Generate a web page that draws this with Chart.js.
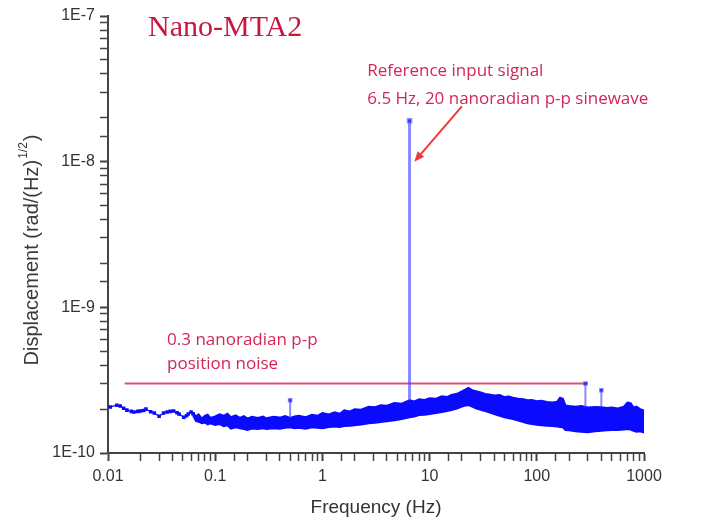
<!DOCTYPE html>
<html>
<head>
<meta charset="utf-8">
<script src="https://cdn.jsdelivr.net/npm/chart.js@4.4.1/dist/chart.umd.min.js"></script>
<style>
  html, body { margin: 0; padding: 0; background: #fff; }
  #wrap { width: 709px; height: 523px; position: relative; }
</style>
</head>
<body>
<div id="wrap"><canvas id="myChart"></canvas></div>
<script>
// values in units of 1E-10 rad/(Hz)^1/2
const lowFreq = [0.0105, 0.0121, 0.013, 0.014, 0.015, 0.0165, 0.0175, 0.019, 0.02, 0.0215, 0.0226, 0.025, 0.027, 0.03, 0.033, 0.0356, 0.038, 0.041, 0.044, 0.046, 0.051, 0.054, 0.056, 0.0596, 0.062]
const lowVals = [2.07, 2.13, 2.10, 2.03, 1.97, 1.93, 1.91, 1.93, 1.94, 1.96, 2.0, 1.92, 1.88, 1.79, 1.88, 1.91, 1.93, 1.94, 1.89, 1.85, 1.76, 1.80, 1.85, 1.91, 1.86]

const bandFreq = [0.062, 0.066, 0.07, 0.075, 0.08, 0.085, 0.09, 0.1, 0.11, 0.12, 0.13, 0.14, 0.155, 0.17, 0.185, 0.2, 0.22, 0.25, 0.28, 0.3, 0.35, 0.4, 0.45, 0.5, 0.55, 0.6, 0.7, 0.8, 0.9, 1.0, 1.15, 1.3, 1.45, 1.6, 1.8, 2.0, 2.3, 2.7, 3.1, 3.5, 4.0, 4.7, 5.5, 6.5, 7.2, 8, 9, 10, 11.5, 13, 14.5, 16, 18, 20, 21.5, 23, 25, 27, 30, 33, 36, 40, 45, 50, 55, 60, 67, 75, 82, 90, 100, 110, 125, 140, 155, 165, 175, 185, 200, 230, 260, 300, 350, 400, 450, 500, 570, 650, 700, 750, 800, 850, 920, 1000]
const bandTop = [1.90, 1.78, 1.84, 1.72, 1.80, 1.83, 1.74, 1.78, 1.84, 1.80, 1.86, 1.76, 1.81, 1.74, 1.79, 1.72, 1.77, 1.74, 1.78, 1.73, 1.77, 1.75, 1.79, 1.74, 1.78, 1.80, 1.76, 1.83, 1.80, 1.88, 1.84, 1.90, 1.86, 1.96, 1.93, 2.00, 1.98, 2.08, 2.06, 2.13, 2.11, 2.20, 2.18, 2.30, 2.26, 2.34, 2.31, 2.38, 2.36, 2.45, 2.42, 2.50, 2.55, 2.65, 2.72, 2.80, 2.70, 2.66, 2.60, 2.54, 2.52, 2.48, 2.50, 2.42, 2.44, 2.40, 2.36, 2.34, 2.30, 2.31, 2.27, 2.28, 2.24, 2.22, 2.25, 2.40, 2.36, 2.12, 2.10, 2.08, 2.10, 2.05, 2.07, 2.06, 2.04, 2.05, 2.02, 2.08, 2.22, 2.20, 2.05, 2.08, 2.00, 1.96]
const bandLow = [1.82, 1.66, 1.64, 1.60, 1.62, 1.57, 1.60, 1.56, 1.58, 1.53, 1.55, 1.47, 1.50, 1.48, 1.46, 1.44, 1.47, 1.46, 1.48, 1.46, 1.48, 1.47, 1.49, 1.50, 1.48, 1.49, 1.47, 1.50, 1.49, 1.48, 1.51, 1.52, 1.51, 1.53, 1.54, 1.55, 1.57, 1.60, 1.61, 1.63, 1.65, 1.68, 1.71, 1.76, 1.78, 1.82, 1.83, 1.85, 1.88, 1.91, 1.94, 1.97, 2.02, 2.08, 2.12, 2.13, 2.08, 2.03, 1.98, 1.94, 1.90, 1.85, 1.80, 1.76, 1.73, 1.71, 1.67, 1.63, 1.60, 1.58, 1.56, 1.55, 1.54, 1.53, 1.52, 1.51, 1.50, 1.44, 1.43, 1.41, 1.40, 1.39, 1.41, 1.42, 1.43, 1.44, 1.44, 1.45, 1.46, 1.45, 1.42, 1.40, 1.41, 1.38]

const spikeFreq = [0.5, 6.5, 284, 400]
const spikeBase = [1.74, 2.3, 2.05, 2.06]
const spikeTop = [2.3, 191, 3.0, 2.7]

const noiseFreq = [0.0143, 300]
const noiseLevel = 3.0

const xTickLabels = ['0.01', '0.1', '1', '10', '100', '1000']
const yTickLabels = ['1E-10', '1E-9', '1E-8', '1E-7']

const E = 1e-10
const isDecade = v => Math.abs(Math.log10(v) - Math.round(Math.log10(v))) < 1e-6
const blue = '#0a0aff'

const pts = (xs, ys) => xs.map((f, i) => ({ x: f, y: ys[i] * E }))

const datasets = [
  {
    data: pts(bandFreq, bandTop),
    borderColor: blue,
    backgroundColor: blue,
    borderWidth: 2,
    pointRadius: 0,
    fill: '+1',
    order: 3
  },
  {
    data: pts(bandFreq, bandLow),
    borderColor: blue,
    backgroundColor: blue,
    borderWidth: 2,
    pointRadius: 0,
    fill: false,
    order: 3
  },
  {
    data: pts(lowFreq, lowVals),
    borderColor: blue,
    backgroundColor: blue,
    borderWidth: 1.3,
    pointStyle: 'rect',
    pointRadius: 1.6,
    fill: false,
    order: 3
  },
  {
    data: noiseFreq.map(f => ({ x: f, y: noiseLevel * E })),
    borderColor: '#e2506f',
    borderWidth: 2,
    pointRadius: 0,
    fill: false,
    order: 2
  }
]

spikeFreq.forEach((f, i) => {
  datasets.push({
    data: [{ x: f, y: spikeBase[i] * E }, { x: f, y: spikeTop[i] * E }],
    borderColor: 'rgba(60, 60, 255, 0.6)',
    backgroundColor: '#1a1aff',
    borderWidth: i === 1 ? 3 : 2,
    pointStyle: 'rect',
    pointRadius: [0, 1.8],
    fill: false,
    order: 1
  })
})

// text overlays: title, notes, arrow and the y axis title with its superscript
const notes = {
  id: 'notes',
  afterDatasetsDraw (chart) {
    const { ctx } = chart
    const x = chart.scales.x
    const y = chart.scales.y
    ctx.save()

    ctx.fillStyle = '#c8163f'
    ctx.font = '30px "Liberation Serif"'
    ctx.textBaseline = 'alphabetic'
    ctx.textAlign = 'left'
    ctx.fillText('Nano-MTA2', 148, 36)

    ctx.fillStyle = '#d42656'
    ctx.font = '17px "Open Sans"'
    ctx.fillText('Reference input signal', x.getPixelForValue(2.62), y.getPixelForValue(3.9e-8))
    ctx.fillText('6.5 Hz, 20 nanoradian p-p sinewave', x.getPixelForValue(2.62), y.getPixelForValue(2.5e-8))
    ctx.fillText('0.3 nanoradian p-p', x.getPixelForValue(0.0356), y.getPixelForValue(5.5e-10))
    ctx.fillText('position noise', x.getPixelForValue(0.0356), y.getPixelForValue(3.75e-10))

    // arrow to the reference spike
    const x0 = x.getPixelForValue(20)
    const y0 = y.getPixelForValue(2.4e-8)
    const x1 = x.getPixelForValue(7.2)
    const y1 = y.getPixelForValue(1.0e-8)
    const a = Math.atan2(y1 - y0, x1 - x0)
    ctx.strokeStyle = '#f03a3a'
    ctx.fillStyle = '#f03a3a'
    ctx.lineWidth = 2
    ctx.beginPath()
    ctx.moveTo(x0, y0)
    ctx.lineTo(x1 - 6 * Math.cos(a), y1 - 6 * Math.sin(a))
    ctx.stroke()
    ctx.beginPath()
    ctx.moveTo(x1, y1)
    ctx.lineTo(x1 - 11 * Math.cos(a - 0.4), y1 - 11 * Math.sin(a - 0.4))
    ctx.lineTo(x1 - 11 * Math.cos(a + 0.4), y1 - 11 * Math.sin(a + 0.4))
    ctx.closePath()
    ctx.fill()

    // y axis title
    ctx.translate(31, 250)
    ctx.rotate(-Math.PI / 2)
    ctx.fillStyle = '#3a3a3a'
    const main = 'Displacement (rad/(Hz)'
    ctx.font = '20px "Liberation Sans"'
    const wMain = ctx.measureText(main).width
    const wEnd = ctx.measureText(')').width
    ctx.font = '12px "Liberation Sans"'
    const wSup = ctx.measureText('1/2').width
    let px = -(wMain + wSup + wEnd + 2) / 2
    ctx.font = '20px "Liberation Sans"'
    ctx.fillText(main, px, 7)
    px += wMain + 1
    ctx.font = '12px "Liberation Sans"'
    ctx.fillText('1/2', px, -4)
    px += wSup + 1
    ctx.font = '20px "Liberation Sans"'
    ctx.fillText(')', px, 7)
    ctx.restore()
  }
}

const tickGrid = {
  drawOnChartArea: false,
  drawTicks: true,
  tickLength: 8,
  tickColor: '#444',
  tickWidth: c => (c.tick && isDecade(c.tick.value) ? 2 : 1.5)
}

new Chart(document.getElementById('myChart'), {
  type: 'line',
  data: { datasets },
  plugins: [notes],
  options: {
    responsive: true,
    maintainAspectRatio: false,
    animation: false,
    layout: { padding: { top: 16, right: 65, left: 0, bottom: 0 } },
    plugins: {
      legend: { display: false },
      tooltip: { enabled: false }
    },
    elements: { line: { tension: 0 } },
    scales: {
      x: {
        type: 'logarithmic',
        min: 0.01,
        max: 1000,
        grid: tickGrid,
        border: { display: true, color: '#444', width: 2 },
        afterFit: s => { s.height = 70 },
        ticks: {
          autoSkip: false,
          maxRotation: 0,
          padding: 6,
          color: '#333',
          font: { family: 'Liberation Sans', size: 16 },
          callback: v => (isDecade(v) ? xTickLabels[Math.round(Math.log10(v)) + 2] : '')
        },
        title: {
          display: true,
          text: 'Frequency (Hz)',
          color: '#333',
          font: { family: 'Liberation Sans', size: 19 },
          padding: { top: 0, bottom: 4 }
        }
      },
      y: {
        type: 'logarithmic',
        min: 1e-10,
        max: 1e-7,
        grid: tickGrid,
        border: { display: true, color: '#444', width: 2 },
        afterFit: s => { s.width = 108 },
        ticks: {
          autoSkip: false,
          padding: 5,
          color: '#333',
          font: { family: 'Liberation Sans', size: 16 },
          callback: v => (isDecade(v) ? yTickLabels[Math.round(Math.log10(v)) + 10] : '')
        }
      }
    }
  }
})
</script>
</body>
</html>
